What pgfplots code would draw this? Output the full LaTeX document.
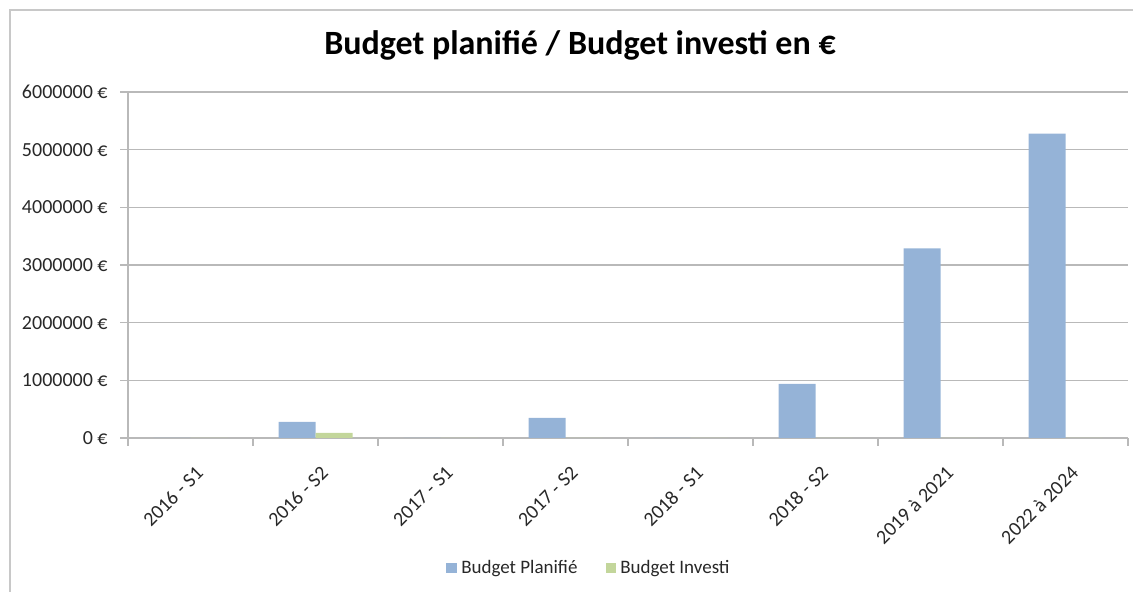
\documentclass[border=0pt]{standalone}
\usepackage{pgfplots}
\pgfplotsset{compat=1.18}
\usepackage{fontspec}
\setmainfont{Carlito}
\definecolor{planif}{RGB}{149,179,215}
\definecolor{invest}{RGB}{195,214,155}
\definecolor{grille}{RGB}{185,185,185}
\definecolor{cadre}{RGB}{200,200,200}
\definecolor{texte}{RGB}{40,40,40}
\begin{document}
\begin{tikzpicture}
\useasboundingbox (0,0) rectangle (566.5pt,296pt);
% cadre du graphique
\draw[cadre, line width=0.8pt] (5pt,-1pt) -- (5pt,291pt) -- (570pt,291pt);
\node[font=\bfseries\fontsize{17}{20}\selectfont] at (290pt,273.5pt) {Budget planifié / Budget investi en €};
\begin{axis}[
    at={(64pt,77pt)}, anchor=south west,
    scale only axis, width=500pt, height=173pt,
    ybar=0pt, bar width=18.5pt,
    xmin=-0.5, xmax=7.5, ymin=0, ymax=6000000,
    scaled y ticks=false,
    axis lines=left, axis line style={grille, line width=1.2pt, -},
    xtick={0,...,7}, major x tick style={draw=none},
    xticklabels={2016 - S1, 2016 - S2, 2017 - S1, 2017 - S2, 2018 - S1, 2018 - S2, 2019 à 2021, 2022 à 2024},
    x tick label style={rotate=45, anchor=north east, font=\fontsize{10}{12}\selectfont, text=texte, inner sep=1pt, yshift=-7pt, xshift=-4pt},
    minor xtick={-0.5,0.5,...,7.5}, minor x tick style={grille, line width=0.8pt},
    minor tick length=4pt, major tick length=4pt, tick align=outside,
    ytick={0,1000000,...,6000000},
    yticklabels={0 €, 1000000 €, 2000000 €, 3000000 €, 4000000 €, 5000000 €, 6000000 €},
    y tick label style={font=\fontsize{10}{12}\selectfont, text=texte, inner sep=1pt, xshift=-5pt},
    y tick style={grille, line width=0.8pt},
    ymajorgrids, grid style={grille, line width=0.8pt},
    legend style={at={(0.462,-0.376)}, anchor=center, draw=none, legend columns=2,
        font=\fontsize{9.5}{11}\selectfont, text=texte, /tikz/every even column/.append style={column sep=12pt}},
    legend cell align=left,
]
\addplot[fill=planif, draw=none, legend image code/.code={\fill[planif] (0pt,-2.7pt) rectangle (5.4pt,2.7pt);}]
    coordinates {(0,0) (1,280000) (2,0) (3,350000) (4,0) (5,940000) (6,3290000) (7,5280000)};
\addplot[fill=invest, draw=none, legend image code/.code={\fill[invest] (0pt,-2.7pt) rectangle (5.4pt,2.7pt);}]
    coordinates {(0,0) (1,90000) (2,0) (3,0) (4,0) (5,0) (6,0) (7,0)};
\legend{Budget Planifié, Budget Investi}
\end{axis}
\end{tikzpicture}
\end{document}
